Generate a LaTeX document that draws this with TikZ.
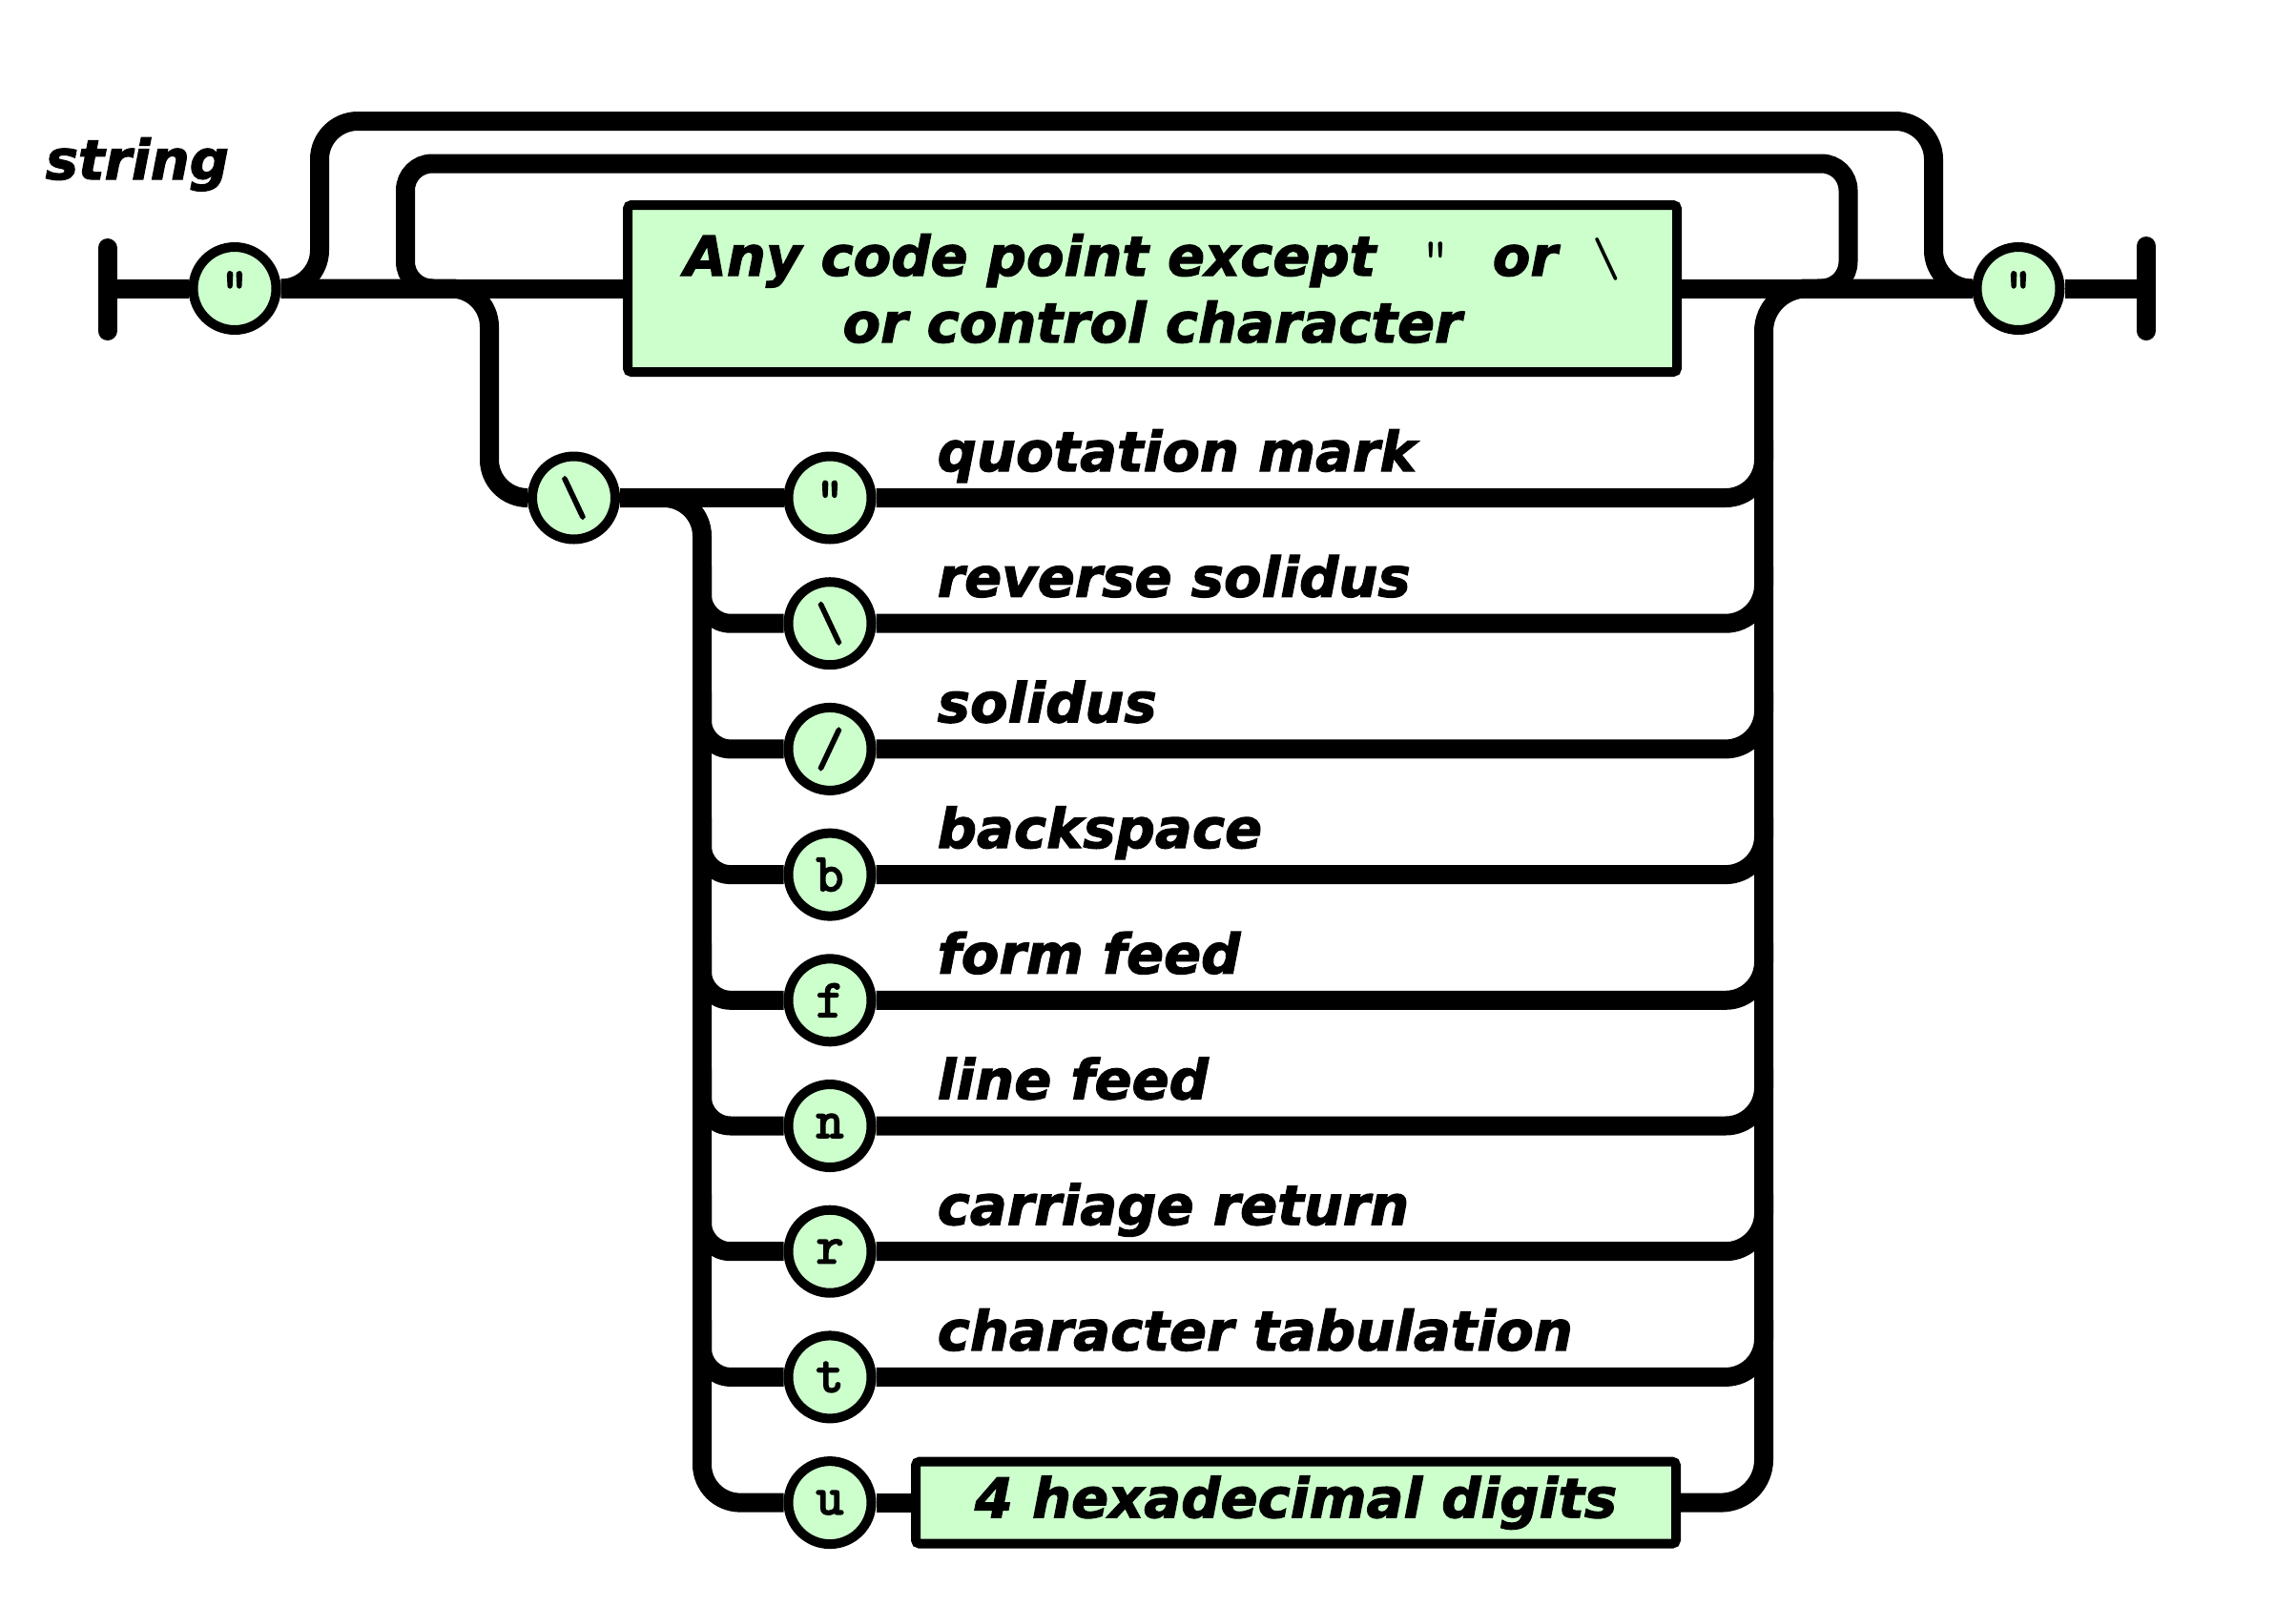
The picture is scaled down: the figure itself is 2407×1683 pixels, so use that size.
\documentclass[tikz,border=0pt]{standalone}
\usepackage{fontspec}
\setmainfont{DejaVu Sans}[BoldItalicFeatures={FakeBold=2}]
\newfontfamily\railmono{Latin Modern Mono}[FakeBold=3.5]
\usepackage{tikz}
\definecolor{termgreen}{RGB}{204,255,204}

\begin{document}
\begin{tikzpicture}[
  x=0.1mm,y=-0.1mm,
  rail/.style={line width=2mm},
  endbar/.style={line width=2mm,line cap=round},
  term/.style={circle,draw,line width=1mm,fill=termgreen,minimum size=8.7mm,inner sep=0pt,font=\railmono\fontsize{16}{18}\selectfont},
  nonterm/.style={rectangle,rounded corners=0.4mm,draw,line width=1mm,fill=termgreen,align=center,font=\bfseries\itshape\fontsize{16.4}{19.9}\selectfont},
  lbl/.style={anchor=base west,inner sep=0pt,font=\bfseries\itshape\fontsize{16.4}{19.9}\selectfont}
]
  \useasboundingbox (0,0) rectangle (2407,1683);

  \coordinate (start) at (112.5,302.5);
  \coordinate (finish) at (2250,302.5);
  \coordinate (loopL) at (455,302.5);
  \coordinate (loopR) at (1905,302.5);
  \coordinate (lvert) at (736,522);
  \coordinate (rvert) at (1849,302.5);

  \node[lbl] (title) at (47,188) {string};
  \node[term] (qopen) at (246,302.5) {"};
  \node[nonterm,minimum width=110mm,minimum height=17.5mm] (anychar) at (1208,302.5)
    {Any code point except\hspace{0.83em}{\ttfamily\mdseries\upshape"}\hspace{0.78em}or\hspace{0.63em}{\ttfamily\mdseries\upshape\textbackslash}\\or control character};
  \node[term] (qclose) at (2116,302.5) {"};
  \node[term] (bslash) at (601.5,522) {\textbackslash};

  \node[term] (qmark) at (870,522) {"};
  \node[term] (rsolidus) at (870,653.7) {\textbackslash};
  \node[term] (solidus) at (870,785.4) {/};
  \node[term] (bksp) at (870,917.1) {b};
  \node[term] (ffeed) at (870,1048.8) {f};
  \node[term] (lfeed) at (870,1180.5) {n};
  \node[term] (cret) at (870,1312.2) {r};
  \node[term] (ctab) at (870,1443.9) {t};
  \node[term] (uhex) at (870,1575.6) {u};
  \node[nonterm,minimum width=79.7mm,minimum height=8.6mm] (hexdig) at (1358.5,1575.6) {4 hexadecimal digits};

  \node[lbl] (lqmark) at (982,494) {quotation mark};
  \node[lbl] (lrsolidus) at (982,625.7) {reverse solidus};
  \node[lbl] (lsolidus) at (982,757.4) {solidus};
  \node[lbl] (lbksp) at (982,889.1) {backspace};
  \node[lbl] (lffeed) at (982,1020.8) {form feed};
  \node[lbl] (llfeed) at (982,1152.5) {line feed};
  \node[lbl] (lcret) at (982,1284.2) {carriage return};
  \node[lbl] (lctab) at (982,1415.9) {character tabulation};

  % ends
  \draw[endbar] (start) ++(0,-42.5) -- ++(0,87);
  \draw[endbar] (finish) ++(0,-44.5) -- ++(0,89);

  % main line and loops
  \draw[rail] (start) -- (qopen);
  \draw[rail] (qopen) -- (anychar);
  \draw[rail] (anychar) -- (qclose);
  \draw[rail] (qclose) -- (finish);
  \draw[rail,rounded corners=4mm] (qopen) -| (335,127) -- (2027,127) |- (qclose);
  \draw[rail,rounded corners=2.8mm] (loopL) -| (425,171.5) -| (1937.5,302.5) -- (loopR);

  % escapes
  \draw[rail,rounded corners=4mm] (qopen) -| (513,522) -- (bslash);
  \draw[rail] (bslash) -- (qmark);
  \draw[rail,rounded corners=4mm] (bslash) -| (lvert |- uhex) -- (uhex);
  \draw[rail,rounded corners=3mm] (rsolidus -| lvert) ++(0,-60) |- (rsolidus);
  \draw[rail,rounded corners=3mm] (solidus -| lvert) ++(0,-60) |- (solidus);
  \draw[rail,rounded corners=3mm] (bksp -| lvert) ++(0,-60) |- (bksp);
  \draw[rail,rounded corners=3mm] (ffeed -| lvert) ++(0,-60) |- (ffeed);
  \draw[rail,rounded corners=3mm] (lfeed -| lvert) ++(0,-60) |- (lfeed);
  \draw[rail,rounded corners=3mm] (cret -| lvert) ++(0,-60) |- (cret);
  \draw[rail,rounded corners=3mm] (ctab -| lvert) ++(0,-60) |- (ctab);

  \draw[rail,rounded corners=4mm] (qmark -| rvert) ++(0,-60) |- (qmark);
  \draw[rail,rounded corners=4mm] (rsolidus -| rvert) ++(0,-60) |- (rsolidus);
  \draw[rail,rounded corners=4mm] (solidus -| rvert) ++(0,-60) |- (solidus);
  \draw[rail,rounded corners=4mm] (bksp -| rvert) ++(0,-60) |- (bksp);
  \draw[rail,rounded corners=4mm] (ffeed -| rvert) ++(0,-60) |- (ffeed);
  \draw[rail,rounded corners=4mm] (lfeed -| rvert) ++(0,-60) |- (lfeed);
  \draw[rail,rounded corners=4mm] (cret -| rvert) ++(0,-60) |- (cret);
  \draw[rail,rounded corners=4mm] (ctab -| rvert) ++(0,-60) |- (ctab);
  \draw[rail] (uhex) -- (hexdig);
  \draw[rail,rounded corners=4.5mm] (hexdig) -| (rvert) -- (qclose);
\end{tikzpicture}
\end{document}
